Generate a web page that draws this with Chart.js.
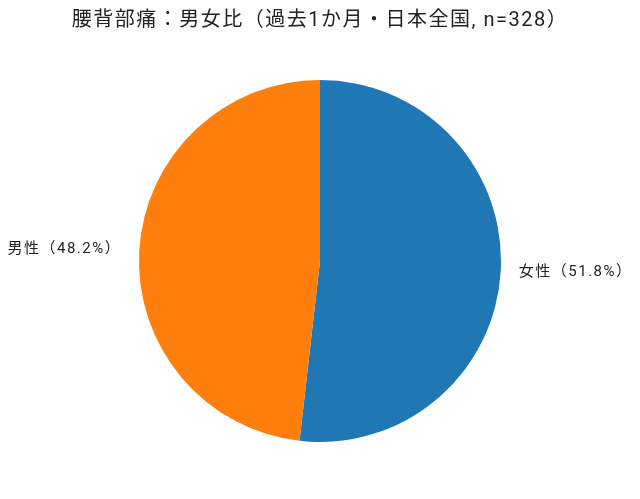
<!DOCTYPE html>
<html lang="ja">
<head>
<meta charset="utf-8">
<script src="https://cdn.jsdelivr.net/npm/chart.js@4"></script>
<style>
  html, body { margin: 0; padding: 0; background: #fff; }
  #wrap { width: 640px; height: 499px; }
</style>
</head>
<body>
<div id="wrap"><canvas id="pieChart"></canvas></div>
<script>
const categories = ['女性', '男性'];
const shares = [51.8, 48.2];
const colors = ['#1f77b4', '#ff7f0e'];
const titleText = '腰背部痛：男女比（過去1か月・日本全国, n=328）';
const fontFamily = 'Roboto, "Noto Sans CJK JP", sans-serif';

// wider tracking for the title (reference font has full-width punctuation)
const titleSpacing = {
    id: 'titleSpacing',
    beforeDraw(chart) {
        chart.ctx.letterSpacing = '1.5px';
    },
    beforeDatasetsDraw(chart) {
        chart.ctx.letterSpacing = '0px';
    }
};

// labels outside the pie, matplotlib style (1.1 x radius)
const outsideLabels = {
    id: 'outsideLabels',
    afterDatasetsDraw(chart) {
        const ctx = chart.ctx;
        const meta = chart.getDatasetMeta(0);
        ctx.save();
        ctx.font = '15px ' + fontFamily;
        ctx.letterSpacing = '1.5px';
        ctx.fillStyle = '#222';
        ctx.textBaseline = 'middle';
        meta.data.forEach((arc, i) => {
            const mid = (arc.startAngle + arc.endAngle) / 2;
            const r = arc.outerRadius * 1.1;
            const x = arc.x + Math.cos(mid) * r;
            const y = arc.y + Math.sin(mid) * r;
            ctx.textAlign = x >= arc.x ? 'left' : 'right';
            ctx.fillText(`${categories[i]}（${shares[i].toFixed(1)}%）`, x, y);
        });
        ctx.restore();
    }
};

new Chart(document.getElementById('pieChart').getContext('2d'), {
    type: 'pie',
    data: {
        labels: categories,
        datasets: [{
            data: shares,
            backgroundColor: colors,
            borderWidth: 0
        }]
    },
    options: {
        responsive: true,
        maintainAspectRatio: false,
        animation: false,
        layout: {
            padding: { top: 0, bottom: 57, left: 0, right: 0 }
        },
        plugins: {
            legend: { display: false },
            tooltip: { enabled: false },
            title: {
                display: true,
                text: titleText,
                color: '#222',
                font: { family: fontFamily, size: 20, weight: 'normal' },
                padding: { top: 9, bottom: 47 }
            }
        }
    },
    plugins: [titleSpacing, outsideLabels]
});
</script>
</body>
</html>
